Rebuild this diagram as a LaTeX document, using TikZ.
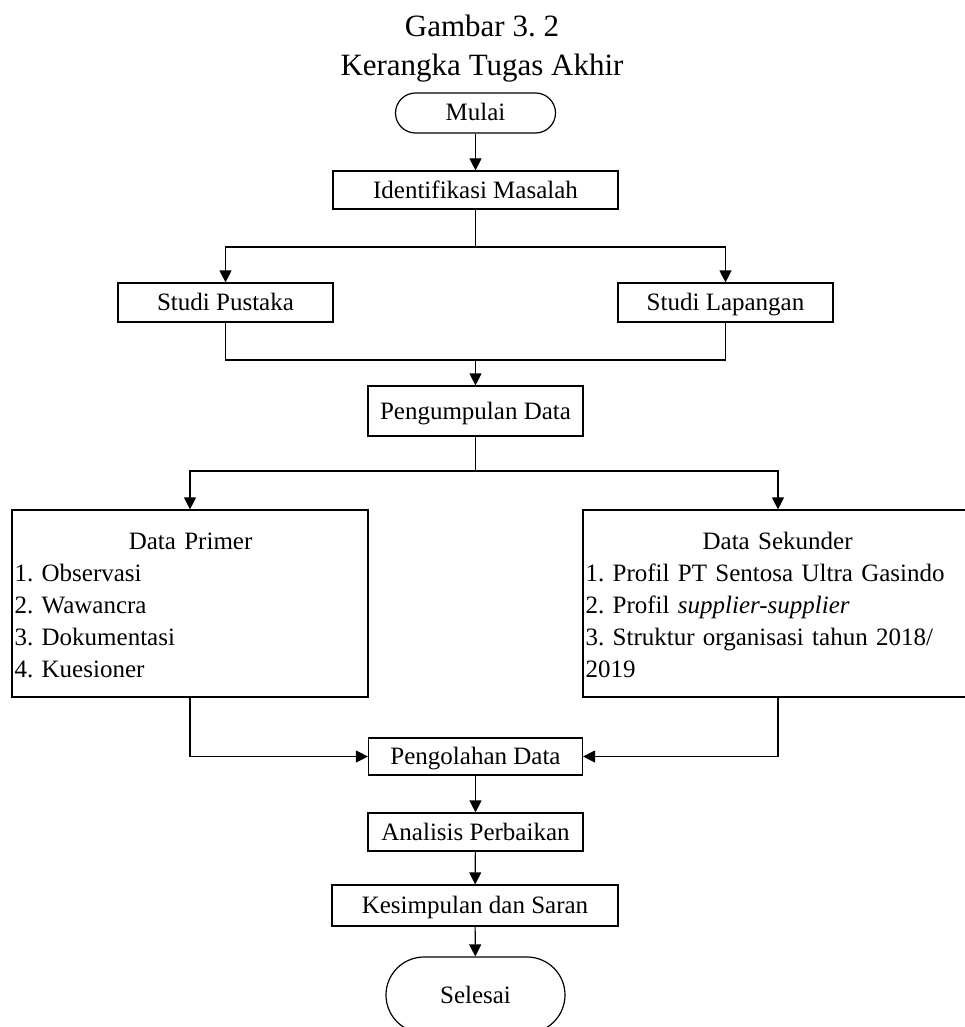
\documentclass[tikz,border=0pt]{standalone}
\usepackage{fontspec}
\setmainfont{Liberation Serif}
\usetikzlibrary{arrows.meta}
\frenchspacing
\begin{document}
\frenchspacing
\begin{tikzpicture}[x=1pt,y=-1pt,
  box/.style={draw,line width=1.2pt,inner sep=0pt,text height=17pt,text depth=1pt,font=\fontsize{25}{30}\selectfont},
  conn/.style={line width=1.2pt},
  arr/.style={conn,-{Triangle[length=12pt,width=12pt]}},
  ttl/.style={font=\fontsize{31}{36}\selectfont,inner sep=0pt,anchor=base},
  listtxt/.style={inner sep=0pt,anchor=north west,align=left,font=\fontsize{25}{32}\selectfont}
]
\useasboundingbox (0,0) rectangle (965,1027);
\clip (0,0) rectangle (965,1027);

% titles
\node[ttl] (t1) at (482,37) {Gambar 3. 2};
\node[ttl] (t2) at (482,76) {Kerangka Tugas Akhir};

% main nodes
\node[box,rounded corners=20pt,minimum width=160pt,minimum height=40pt] (mulai) at (475.5,113) {Mulai};
\node[box,minimum width=285pt,minimum height=38pt] (ident) at (475.5,190) {Identifikasi Masalah};
\node[box,minimum width=215pt,minimum height=39pt] (pustaka) at (225.5,302.5) {Studi Pustaka};
\node[box,minimum width=215pt,minimum height=39pt] (lapangan) at (725.5,302.5) {Studi Lapangan};
\node[box,minimum width=215pt,minimum height=50pt] (kumpul) at (475.5,411) {Pengumpulan Data};
\node[box,minimum width=356pt,minimum height=187pt] (primer) at (190,603.5) {};
\node[box,minimum width=390pt,minimum height=187pt] (sekunder) at (778,603.5) {};
\node[box,minimum width=214pt,minimum height=37pt] (olah) at (475.5,756.5) {Pengolahan Data};
\node[box,minimum width=215pt,minimum height=38pt] (analisis) at (475.5,832) {Analisis Perbaikan};
\node[box,minimum width=286pt,minimum height=41pt] (simpul) at (475,905.5) {Kesimpulan dan Saran};
\node[box,rounded corners=38pt,minimum width=179pt,minimum height=76pt] (selesai) at (475.5,995) {Selesai};

% list texts
\node[listtxt,text width=352pt] (primertxt) at ([xshift=3pt,yshift=-23pt]primer.north west)
  {\makebox[\linewidth]{Data Primer}\\1. Observasi\\2. Wawancra\\3. Dokumentasi\\4. Kuesioner};
\node[listtxt,text width=384pt] (sekundertxt) at ([xshift=3pt,yshift=-23pt]sekunder.north west)
  {\makebox[\linewidth]{Data Sekunder}\\1. Profil PT Sentosa Ultra Gasindo\\2. Profil \textit{supplier-supplier}\\3. Struktur organisasi tahun 2018/\\2019};

% junction coordinates
\coordinate (j1) at (475.5,247);
\coordinate (j2) at (475.5,360);
\coordinate (j3) at (475.5,471);

% connectors
\draw[arr] (mulai) -- (ident);
\draw[conn] (ident.south) -- (j1);
\draw[arr] (j1) -| (pustaka.north);
\draw[arr] (j1) -| (lapangan.north);
\draw[conn] (pustaka.south) |- (j2);
\draw[conn] (lapangan.south) |- (j2);
\draw[arr] (j2) -- (kumpul.north);
\draw[conn] (kumpul.south) -- (j3);
\draw[arr] (j3) -| (primer.north);
\draw[arr] (j3) -| (sekunder.north);
\draw[arr] (primer.south) |- (olah.west);
\draw[arr] (sekunder.south) |- (olah.east);
\draw[arr] (olah) -- (analisis);
\draw[arr] (analisis) -- (simpul);
\draw[arr] (simpul) -- (selesai);
\end{tikzpicture}
\end{document}
